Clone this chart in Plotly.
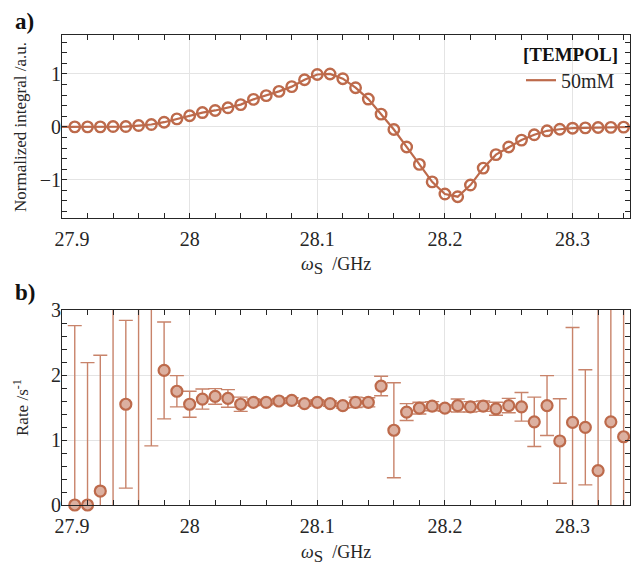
import plotly.graph_objects as go

# ---------------- data ----------------
# panel a) normalized integral (line points; first/last carry no marker)
freq_line = [27.90, 27.91, 27.92, 27.93, 27.94, 27.95, 27.96, 27.97, 27.98, 27.99,
             28.00, 28.01, 28.02, 28.03, 28.04, 28.05, 28.06, 28.07, 28.08, 28.09,
             28.10, 28.11, 28.12, 28.13, 28.14, 28.15, 28.16, 28.17, 28.18, 28.19,
             28.20, 28.21, 28.22, 28.23, 28.24, 28.25, 28.26, 28.27, 28.28, 28.29,
             28.30, 28.31, 28.32, 28.33, 28.34, 28.35]
integral = [0.0, 0.0, 0.0, 0.0, 0.006, 0.006, 0.025, 0.044, 0.088, 0.15,
            0.21, 0.27, 0.31, 0.36, 0.42, 0.52, 0.59, 0.67, 0.76, 0.89,
            0.99, 1.0, 0.91, 0.74, 0.525, 0.24, -0.05, -0.38, -0.71, -1.04,
            -1.27, -1.32, -1.10, -0.78, -0.525, -0.38, -0.25, -0.15, -0.075, -0.045,
            -0.025, -0.02, -0.012, -0.01, -0.005, 0.0]

# panel b) rate with error bars
freq_rate = [27.91, 27.92, 27.93, 27.94, 27.95, 27.96, 27.97, 27.98, 27.99,
             28.00, 28.01, 28.02, 28.03, 28.04, 28.05, 28.06, 28.07, 28.08, 28.09,
             28.10, 28.11, 28.12, 28.13, 28.14, 28.15, 28.16, 28.17, 28.18, 28.19,
             28.20, 28.21, 28.22, 28.23, 28.24, 28.25, 28.26, 28.27, 28.28, 28.29,
             28.30, 28.31, 28.32, 28.33, 28.34]
rate = [0.0, 0.0, 0.215, 3.4, 1.55, 3.3, 3.5, 2.07, 1.75,
        1.55, 1.63, 1.67, 1.64, 1.55, 1.58, 1.58, 1.60, 1.61, 1.56,
        1.58, 1.56, 1.53, 1.58, 1.58, 1.83, 1.15, 1.43, 1.49, 1.52,
        1.49, 1.53, 1.51, 1.52, 1.48, 1.53, 1.51, 1.28, 1.53, 0.985,
        1.27, 1.195, 0.53, 1.28, 1.05]
rate_err = [2.76, 2.19, 2.09, 3.8, 1.29, 3.6, 2.59, 0.745, 0.24,
            0.20, 0.155, 0.12, 0.135, 0.11, 0.05, 0.04, 0.04, 0.04, 0.04,
            0.04, 0.04, 0.04, 0.08, 0.07, 0.15, 0.73, 0.13, 0.09, 0.07,
            0.05, 0.10, 0.08, 0.08, 0.10, 0.11, 0.22, 0.38, 0.46, 0.65,
            1.46, 0.885, 2.6, 1.9, 2.1]

x_tickvals = [27.9, 28.0, 28.1, 28.2, 28.3]
x_ticktext = ["\u200327.9", "28", "28.1", "28.2", "28.3"]
y1_tickvals = [-1, 0, 1]
y2_tickvals = [0, 1, 2, 3]

# ---------------- style ----------------
C_LINE = "#bd6a4b"
C_FILL = "#dcb0a0"
C_ERR = "#c8836a"
AX = "#262626"
GRID = "#e4e4e4"
FONT = "Liberation Serif"
XR = [27.9, 28.345]

W, H = 636, 568
ML, MR, MT, MB = 62, 6, 35, 63
PW, PH = W - ML - MR, H - MT - MB


def px(x):
    return (x - ML) / PW


def py(y):
    return (H - MB - y) / PH


fig = go.Figure()

fig.add_trace(go.Scatter(
    x=freq_line, y=integral, mode="lines", name="50mM",
    line=dict(color=C_LINE, width=2.2), xaxis="x", yaxis="y"))
fig.add_trace(go.Scatter(
    x=freq_line[1:-1], y=integral[1:-1], mode="markers", showlegend=False,
    marker=dict(symbol="circle-open", size=10.5, color=C_LINE, line=dict(width=2.4)),
    xaxis="x", yaxis="y"))

# error bars (clipped to the plot area)
fig.add_trace(go.Scatter(
    x=freq_rate, y=rate, mode="markers", showlegend=False,
    marker=dict(size=1, opacity=0),
    error_y=dict(type="data", array=rate_err, visible=True, color=C_ERR,
                 thickness=1.4, width=7),
    xaxis="x2", yaxis="y2"))
# markers: only those inside the axis range, drawn unclipped at the edge
vis_rate = [v if 0 <= v <= 3 else None for v in rate]
fig.add_trace(go.Scatter(
    x=freq_rate, y=vis_rate, mode="markers", showlegend=False, cliponaxis=False,
    marker=dict(symbol="circle", size=11, color=C_FILL, line=dict(color=C_LINE, width=2.2)),
    xaxis="x2", yaxis="y2"))


def xaxis(domain, anchor):
    return dict(domain=domain, anchor=anchor, range=XR,
                tickmode="array", tickvals=x_tickvals, ticktext=x_ticktext,
                showline=True, linecolor=AX, linewidth=1, mirror="ticks",
                ticks="inside", ticklen=5, tickcolor=AX, tickwidth=1,
                showgrid=True, gridcolor=GRID, gridwidth=1, zeroline=False,
                tickfont=dict(family=FONT, size=20, color=AX),
                ticklabelstandoff=3,
                minor=dict(tick0=27.9, dtick=0.02, ticks="inside", ticklen=5,
                           tickcolor=AX, tickwidth=1, showgrid=False))


def yaxis(domain, anchor, rng, vals):
    return dict(domain=domain, anchor=anchor, range=rng,
                tickmode="array", tickvals=vals,
                showline=True, linecolor=AX, linewidth=1, mirror="ticks",
                ticks="inside", ticklen=5, tickcolor=AX, tickwidth=1,
                showgrid=True, gridcolor=GRID, gridwidth=1, zeroline=False,
                tickfont=dict(family=FONT, size=20, color=AX),
                ticklabelstandoff=-4,
                minor=dict(tick0=0, dtick=0.2, ticks="inside", ticklen=5,
                           tickcolor=AX, tickwidth=1, showgrid=False))


y1d = [py(217.7), 1.0]
y2d = [0.0, py(310)]

xtitle = ('<i>ω</i><sub><span style="font-size:17px">S</span></sub>'
          '\u2002/GHz')
ann_font = dict(family=FONT, size=18, color=AX)
annotations = [
    dict(text="<b>a)</b>", x=px(13), y=py(22), xanchor="left", yanchor="middle",
         font=dict(family=FONT, size=23, color="#111111")),
    dict(text="<b>b)</b>", x=px(13), y=py(292), xanchor="left", yanchor="middle",
         font=dict(family=FONT, size=23, color="#111111")),
    dict(text=xtitle, x=px(336), y=py(266), xanchor="center", yanchor="middle",
         font=ann_font),
    dict(text=xtitle, x=px(336), y=py(554), xanchor="center", yanchor="middle",
         font=ann_font),
    dict(text="Normalized integral /a.u.", x=px(21), y=py(127),
         xanchor="center", yanchor="middle", textangle=-90,
         font=dict(family=FONT, size=17, color=AX)),
    dict(text="Rate /s<sup>-1</sup>", x=px(21), y=py(408),
         xanchor="center", yanchor="middle", textangle=-90,
         font=dict(family=FONT, size=17, color=AX)),
]
for a in annotations:
    a.update(xref="paper", yref="paper", showarrow=False)

fig.update_layout(
    width=W, height=H,
    margin=dict(l=ML, r=MR, t=MT, b=MB, autoexpand=False),
    paper_bgcolor="white", plot_bgcolor="white",
    xaxis=xaxis([0, 1], "y"),
    yaxis=yaxis(y1d, "x", [-1.717, 1.736], y1_tickvals),
    xaxis2=xaxis([0, 1], "y2"),
    yaxis2=yaxis(y2d, "x2", [0, 3], y2_tickvals),
    showlegend=True,
    legend=dict(x=px(620), y=py(36), xanchor="right", yanchor="top",
                bgcolor="rgba(0,0,0,0)", borderwidth=0,
                title=dict(text="<b>[TEMPOL]</b>", side="top center",
                           font=dict(family=FONT, size=19, color="#111111")),
                font=dict(family=FONT, size=20, color=AX)),
    annotations=annotations,
)

fig.write_html("out.html", config={"displayModeBar": False},
               post_script="document.body.style.margin='0px';")
